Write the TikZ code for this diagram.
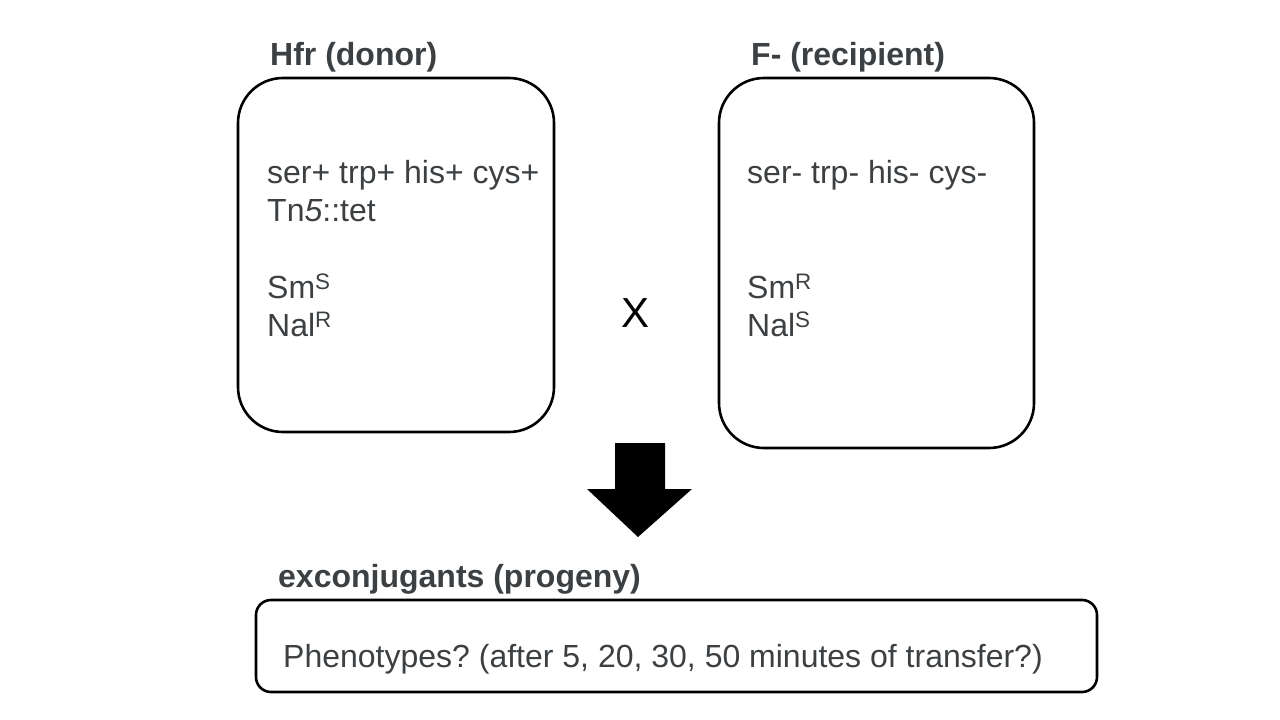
\documentclass[tikz,border=0pt]{standalone}
\usepackage{fontspec}
\setmainfont{Liberation Sans}
\usepackage{tikz}
\usetikzlibrary{positioning}
\frenchspacing
\definecolor{ink}{HTML}{3C4043}
\tikzset{box/.style={draw,line width=2.6pt,rounded corners=45pt,inner sep=0pt},
  txt/.style={inner sep=0pt,text=ink,align=left,font=\fontsize{32}{38.4}\selectfont},
  head/.style={txt,anchor=base west,font=\fontsize{32}{38.4}\selectfont\bfseries}}

\begin{document}
\begin{tikzpicture}[x=1pt,y=-1pt]
\useasboundingbox (0,0) rectangle (1280,720);
% two strains
\node[box,minimum width=316pt,minimum height=354pt] (donor) at (396,255) {};
\node[box,minimum width=315pt,minimum height=370pt] (recip) at (876.5,263) {};
\node[head] (dtitle) at (270,65) {Hfr (donor)};
\node[head] (rtitle) at (751,65) {F- (recipient)};
\node[txt,anchor=north west] (dgeno) at (267,160)
  {ser+ trp+ his+ cys+\\ Tn\textit{5}::tet\\[38.4pt] Sm\textsuperscript{S}\\ Nal\textsuperscript{R}};
\node[txt,anchor=north west] (rgeno) at (747,160)
  {ser- trp- his- cys-\\[76.8pt] Sm\textsuperscript{R}\\ Nal\textsuperscript{S}};
\node[inner sep=0pt,font=\fontsize{42}{48}\selectfont] (cross) at (636,313) {X};
% arrow
\fill (615,443) -- (665,443) -- (665,489) -- (692,489) -- (638,537) -- (587,489) -- (615,489) -- cycle;
% progeny
\node[head] (ptitle) at (278,587) {exconjugants (progeny)};
\node[box,rounded corners=15pt,minimum width=841pt,minimum height=92pt] (prog) at (676.5,646) {};
\node[txt,anchor=base west] (pheno) at (283,667) {Phenotypes? (after 5, 20, 30, 50 minutes of transfer?)};
\end{tikzpicture}
\end{document}
